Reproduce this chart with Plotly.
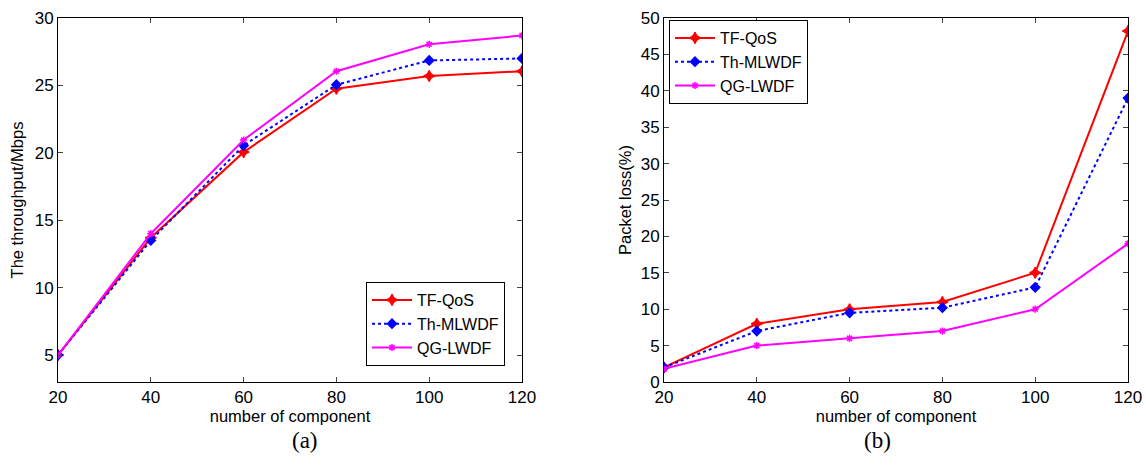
import plotly.graph_objects as go

components = [20, 40, 60, 80, 100, 120]
series_names = ["TF-QoS", "Th-MLWDF", "QG-LWDF"]
throughput_tf = [5, 13.7, 20.05, 24.75, 25.7, 26.05]
throughput_th = [5, 13.5, 20.55, 25.05, 26.85, 27.0]
throughput_qg = [5, 14.0, 20.95, 26.05, 28.05, 28.7]
loss_tf = [2, 8, 10, 11, 15, 48.2]
loss_th = [2, 7, 9.5, 10.2, 13, 39]
loss_qg = [1.8, 5, 6, 7, 10, 19]
left_yticks = [5, 10, 15, 20, 25, 30]
right_yticks = [0, 5, 10, 15, 20, 25, 30, 35, 40, 45, 50]
x_ticks = [20, 40, 60, 80, 100, 120]

W, H = 1146, 465
PLOT_TOP, PLOT_BOTTOM = 18, 382
PH = PLOT_BOTTOM - PLOT_TOP

def px(xr):
    return xr / W

def py(yr):
    return (PLOT_BOTTOM - yr) / PH

styles = [
    dict(color="#ff0000", dash="solid", symbol="star-diamond", size=8),
    dict(color="#0000ff", dash="dot", symbol="diamond", size=7),
    dict(color="#ff00ff", dash="solid", symbol="asterisk-open", size=6),
]

fig = go.Figure()
left_data = [throughput_tf, throughput_th, throughput_qg]
right_data = [loss_tf, loss_th, loss_qg]
for name, ys, st in zip(series_names, left_data, styles):
    fig.add_trace(go.Scatter(
        x=components, y=ys, name=name, mode="lines+markers",
        line=dict(color=st["color"], dash=st["dash"], width=2),
        marker=dict(symbol=st["symbol"], size=st["size"], color=st["color"],
                    line=dict(color=st["color"], width=1.5)),
        xaxis="x", yaxis="y", legend="legend"))
for name, ys, st in zip(series_names, right_data, styles):
    fig.add_trace(go.Scatter(
        x=components, y=ys, name=name, mode="lines+markers",
        line=dict(color=st["color"], dash=st["dash"], width=2),
        marker=dict(symbol=st["symbol"], size=st["size"], color=st["color"],
                    line=dict(color=st["color"], width=1.5)),
        xaxis="x2", yaxis="y2", legend="legend2"))

FONT = "Liberation Sans, Arial"
axis_common = dict(showline=True, linecolor="black", linewidth=1, mirror="ticks",
                   ticks="inside", ticklen=5, tickcolor="#444", showgrid=False,
                   zeroline=False, automargin=False,
                   tickfont=dict(family=FONT, size=17, color="black"))
title_font = dict(family=FONT, size=16.5, color="black")
legend_font = dict(family=FONT, size=16, color="black")

fig.update_layout(
    width=W, height=H,
    paper_bgcolor="white", plot_bgcolor="white",
    margin=dict(l=0, r=0, t=PLOT_TOP, b=H - PLOT_BOTTOM),
    xaxis=dict(domain=[px(58), px(522)], range=[20, 120], tickvals=x_ticks,
               title=dict(text="number of component", font=title_font, standoff=0), anchor="y", **axis_common),
    yaxis=dict(domain=[0, 1], range=[3, 30], tickvals=left_yticks,
               title=dict(text="The throughput/Mbps", font=title_font, standoff=6), anchor="x", **axis_common),
    xaxis2=dict(domain=[px(664), px(1128)], range=[20, 120], tickvals=x_ticks,
                title=dict(text="number of component", font=title_font, standoff=0), anchor="y2", **axis_common),
    yaxis2=dict(domain=[0, 1], range=[0, 50], tickvals=right_yticks,
                title=dict(text="Packet loss(%)", font=title_font, standoff=4), anchor="x2", **axis_common),
    legend=dict(x=px(366), y=py(282), xref="paper", yref="paper",
                xanchor="left", yanchor="top", bordercolor="black", borderwidth=1,
                bgcolor="white", font=legend_font, itemwidth=40, tracegroupgap=0),
    legend2=dict(x=px(669), y=py(20), xref="paper", yref="paper",
                 xanchor="left", yanchor="top", bordercolor="black", borderwidth=1,
                 bgcolor="white", font=legend_font, itemwidth=40, tracegroupgap=0),
    annotations=[
        dict(text="(a)", x=px(290), y=py(455), xref="paper", yref="paper",
             showarrow=False, font=dict(family="Liberation Serif, Times New Roman", size=23, color="black")),
        dict(text="(b)", x=px(893), y=py(455), xref="paper", yref="paper",
             showarrow=False, font=dict(family="Liberation Serif, Times New Roman", size=23, color="black")),
    ],
)

fig.write_html(
    "out.html",
    config={"displayModeBar": False},
    post_script="document.body.style.margin='0';document.body.style.overflow='hidden';",
)
